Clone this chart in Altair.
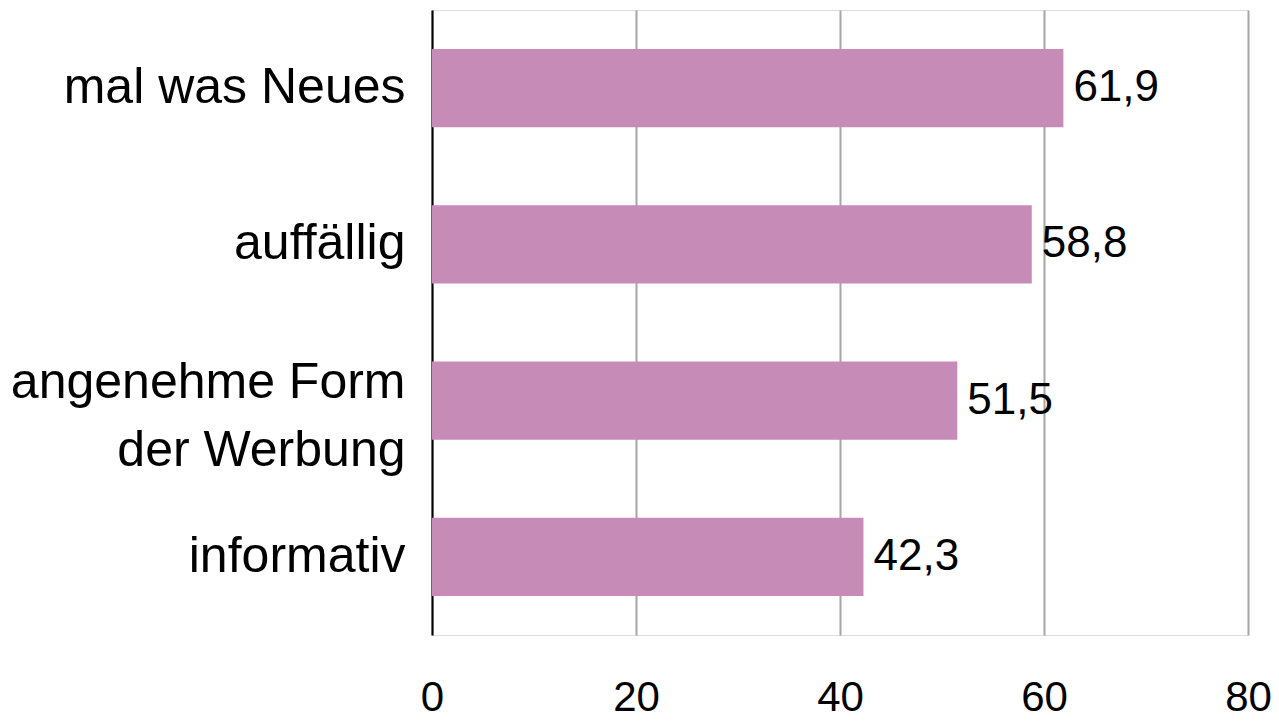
import altair as alt
import pandas as pd

categories = ["mal was Neues", "auffällig", "angenehme Form\nder Werbung", "informativ"]
values = [61.9, 58.8, 51.5, 42.3]
value_labels = ["61,9", "58,8", "51,5", "42,3"]
x_ticks = [0, 20, 40, 60, 80]

df = pd.DataFrame({"cat": categories, "val": values, "lbl": value_labels})

FONT = "Liberation Sans"
BAR = "#C78BB7"

y_enc = alt.Y(
    "cat:N",
    sort=categories,
    title=None,
    scale=alt.Scale(paddingInner=0.5, paddingOuter=0.25),
    axis=alt.Axis(
        ticks=False,
        tickSize=0,
        grid=False,
        domain=True,
        domainColor="#000000",
        domainWidth=2,
        labelFont=FONT,
        labelFontSize=50,
        labelColor="#000000",
        labelPadding=27,
        labelLineHeight=68,
        labelLimit=0,
        labelExpr="split(datum.label, '\\n')",
        labelOffset={
            "condition": {"test": "indexof(datum.label, 'Form') >= 0", "value": -18},
            "value": 0,
        },
    ),
)

x_enc = alt.X(
    "val:Q",
    title=None,
    scale=alt.Scale(domain=[0, 80], nice=False, zero=True),
    axis=alt.Axis(
        values=x_ticks,
        domain=False,
        ticks=False,
        tickSize=0,
        grid=True,
        gridColor="#A6A6A6",
        gridWidth=2,
        labelFont=FONT,
        labelFontSize=42,
        labelColor="#000000",
        labelFlush=False,
        labelBaseline="alphabetic",
        labelPadding=75,
    ),
)

bars = alt.Chart(df).mark_bar(color=BAR).encode(x=x_enc, y=y_enc)

text = alt.Chart(df).mark_text(
    align="left", baseline="middle", dx=10, font=FONT, fontSize=44, color="#000000"
).encode(
    x=alt.X("val:Q"),
    y=alt.Y("cat:N", sort=categories),
    text="lbl:N",
)

chart = (
    alt.layer(bars, text)
    .properties(
        width=816,
        height=625,
        autosize=alt.AutoSizeParams(type="none"),
        padding={"left": 424, "top": 2, "right": 23, "bottom": 83},
    )
    .configure_view(stroke=None)
    .configure(background="#FFFFFF")
)

chart.save("out.html", embed_options={"renderer": "svg", "actions": False})
